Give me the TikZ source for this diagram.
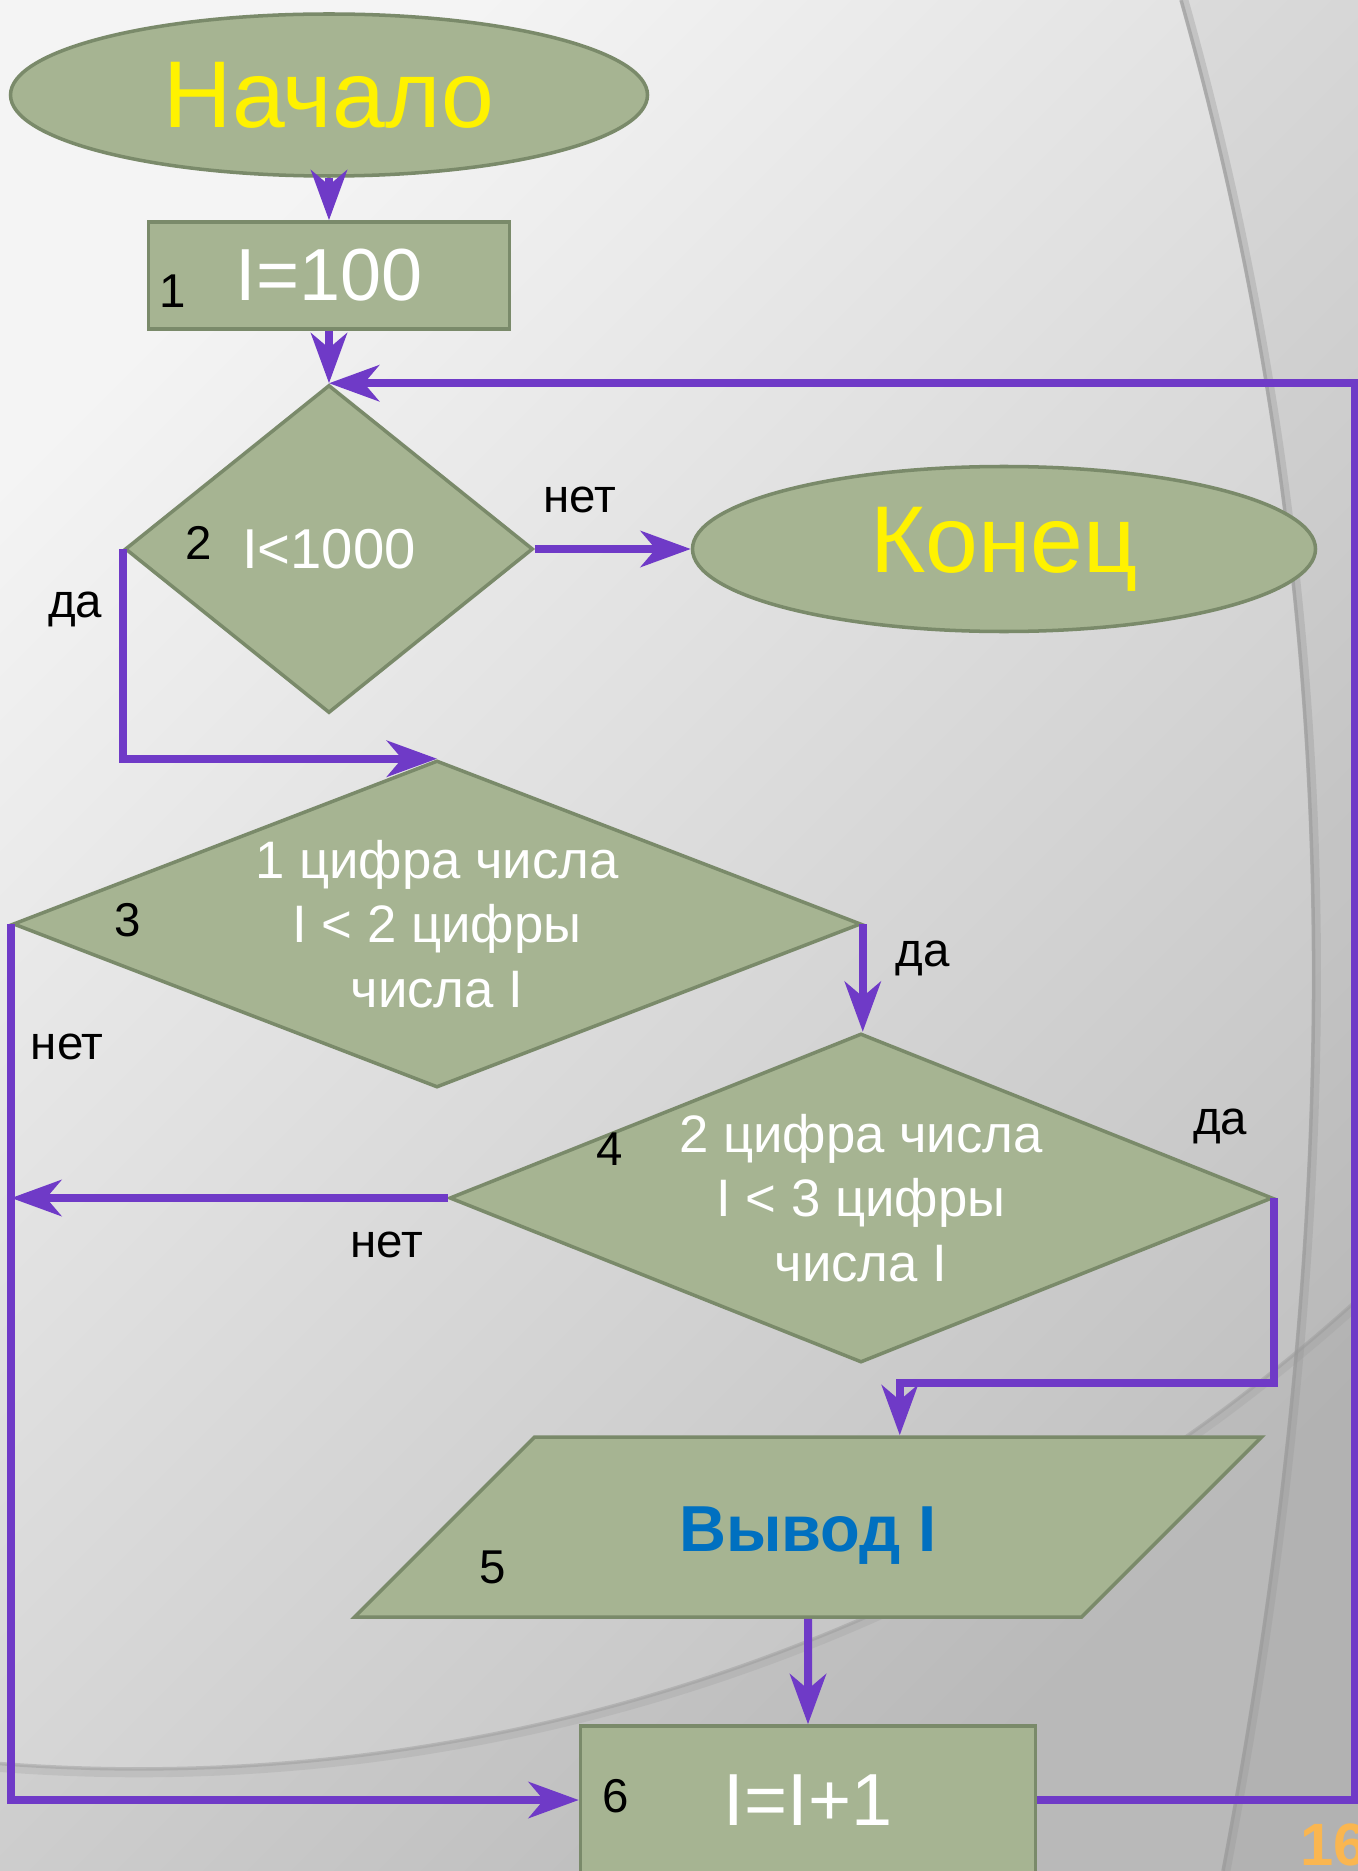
\documentclass[tikz,border=0pt]{standalone}
\usepackage{fontspec}
\setmainfont{Liberation Sans}
\usetikzlibrary{shapes.geometric, arrows.meta}

\definecolor{blockfill}{RGB}{166,180,146}
\definecolor{blockline}{RGB}{122,138,106}
\definecolor{flowcol}{RGB}{111,58,199}
\definecolor{bglight}{RGB}{244,244,244}
\definecolor{bgdark}{RGB}{192,192,192}
\definecolor{outblue}{RGB}{0,112,192}
\definecolor{numorange}{RGB}{250,182,80}

\tikzstyle{startstop} = [ellipse, inner sep=0pt, draw=blockline, line width=1pt, fill=blockfill, text=yellow, font=\fontsize{27}{30}\selectfont]
\tikzstyle{process} = [rectangle, inner sep=0pt, draw=blockline, line width=1pt, fill=blockfill, text=white, font=\fontsize{21}{25}\selectfont]
\tikzstyle{io} = [trapezium, trapezium left angle=45, trapezium right angle=135, trapezium stretches body, minimum width=9.07cm, text height=1.14cm, text depth=0.66cm, inner sep=0pt, draw=blockline, line width=1pt, fill=blockfill, text=outblue, font=\bfseries\fontsize{18.5}{22}\selectfont]
\tikzstyle{decision} = [diamond, inner sep=0pt, draw=blockline, line width=1pt, fill=blockfill, text=white, align=center, font=\fontsize{15}{18.3}\selectfont]
\tikzstyle{num} = [inner sep=0pt, font=\fontsize{13.5}{16}\selectfont]
\tikzstyle{lbl} = [inner sep=0pt, text=black, font=\fontsize{13.5}{16}\selectfont]
\tikzstyle{arrow} = [line width=0.08cm, draw=flowcol, ->, >={Stealth[length=0.5cm, width=0.36cm, inset=0.15cm]}]

\begin{document}
\begin{tikzpicture}
		\useasboundingbox (0,0) rectangle (13.58,-18.71);
		% background with the two arcs
		\shade [top color=bglight, bottom color=bgdark, shading angle=45] (0,0) rectangle (13.58,-18.71);
		\fill [black, opacity=0.04] (11.81,0) .. controls (13.5,-6) and (13.5,-12) .. (12.23,-18.71) -- (13.58,-18.71) -- (13.58,0) -- cycle;
		\fill [black, opacity=0.03] (1.39,0.47) ++(-94.4:18.16) arc[start angle=-94.4, end angle=-47.9, radius=18.16] -- (13.58,-18.71) -- (0,-18.71) -- cycle;
		\draw [black!40, line width=2.5pt, opacity=0.35] (11.84,0) .. controls (13.53,-6) and (13.53,-12) .. (12.26,-18.71);
		\draw [black!40, line width=1pt, opacity=0.6] (11.81,0) .. controls (13.5,-6) and (13.5,-12) .. (12.23,-18.71);
		\draw [black!40, line width=2.5pt, opacity=0.25] (1.39,0.47) ++(-94.4:18.2) arc[start angle=-94.4, end angle=-47.9, radius=18.2];
		\draw [black!40, line width=1pt, opacity=0.45] (1.39,0.47) ++(-94.4:18.16) arc[start angle=-94.4, end angle=-47.9, radius=18.16];

		\node (start) [startstop, minimum width=6.37cm, minimum height=1.62cm] at (3.29,-0.95) {Начало};
		\node (init) [process, below of = start, yshift = -0.805cm, minimum width=3.61cm, minimum height=1.07cm] {I=100};
		\node (check1) [decision, below of = init, yshift = -1.735cm, minimum width=4.08cm, minimum height=3.28cm, aspect=1.24, font=\fontsize{16}{19}\selectfont] {I<1000};
		\node (stop) [startstop, right of = check1, xshift = 5.75cm, minimum width=6.23cm, minimum height=1.65cm] {Конец};
		\node (check2) [decision, below of = check1, xshift = 1.08cm, yshift = -2.75cm, minimum width=8.48cm, minimum height=3.27cm, aspect=2.59] {1 цифра числа\\I < 2 цифры\\числа I};
		\node (check3) [decision, below of = check2, xshift = 4.24cm, yshift = -1.74cm, minimum width=8.23cm, minimum height=3.29cm, aspect=2.5] {2 цифра числа\\I < 3 цифры\\числа I};
		\node (output) [io, below of = check3, xshift = -0.53cm, yshift = -2.29cm] {Вывод I};
		\node (increase) [process, below of = output, yshift = -1.73cm, minimum width=4.55cm, minimum height=1.48cm] {I=I+1};

		\node (num1) [num, left of = init, xshift = -0.56cm, yshift = -0.155cm] {1};
		\node (num2) [num, left of = check1, xshift = -0.30cm, yshift = 0.06cm] {2};
		\node (num3) [num, left of = check2, xshift = -2.09cm, yshift = 0.04cm] {3};
		\node (num4) [num, left of = check3, xshift = -1.51cm, yshift = 0.49cm] {4};
		\node (num5) [num, left of = output, xshift = -2.15cm, yshift = -0.40cm] {5};
		\node (num6) [num, left of = increase, xshift = -0.92cm, yshift = 0.04cm] {6};
		\node (page) [anchor=west, inner sep=0pt, text=numorange, font=\bfseries\fontsize{17}{20}\selectfont] at (13.0,-18.45) {16};

		\draw [arrow] (start) -- (init);
		\draw [arrow] (init) -- (check1);
		\draw [arrow] (check1) -- node[lbl, pos=0.29, yshift=0.49cm] {нет} (stop);
		\draw [arrow] (check1.west) |- node[lbl, pos=0.145, xshift=-0.48cm] {да} (check2.north);
		\draw [arrow] (check2.east) -- node[lbl, pos=0.32, xshift=0.6cm] {да} (check2.east |- check3.north);
		\draw [arrow] (check3.west) -- node[lbl, pos=0.14, yshift=-0.47cm] {нет} (check3.west -| check2.west);
		\draw [arrow] (check2.west) |- node[lbl, pos=0.07, xshift=0.56cm] {нет} (increase.west);
		\draw [arrow] (check3.east) node[lbl, xshift=-0.54cm, yshift=0.72cm] {да} -- ++(0,-1.85) -| (output.top side);
		\draw [arrow] (output) -- (increase);
		\draw [arrow] (increase.east) -| ([xshift=10.26cm]check1.north) -- (check1.north);
	\end{tikzpicture}
\end{document}
